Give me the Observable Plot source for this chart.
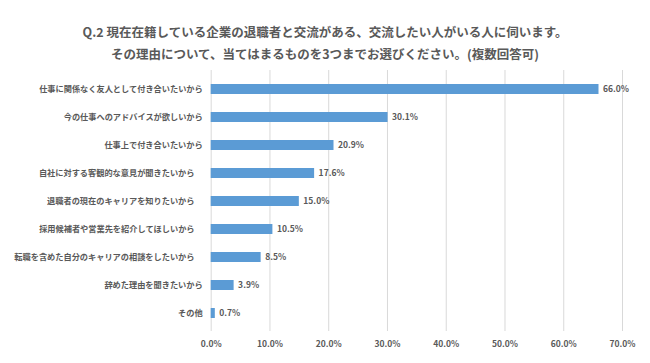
<!DOCTYPE html>
<html><head><meta charset="utf-8">
<script src="https://cdn.jsdelivr.net/npm/d3@7"></script>
<script src="https://cdn.jsdelivr.net/npm/@observablehq/plot@0.6"></script>
<style>
body{margin:0;background:#fff;font-family:"Noto Sans CJK JP","Noto Sans",sans-serif;}
#title{width:650px;height:65px;box-sizing:border-box;padding-top:21px;text-align:center;color:#595959;font-weight:bold;font-size:12.5px;line-height:22px;}
</style></head>
<body>
<div id="title"><div>Q.2 現在在籍している企業の退職者と交流がある、交流したい人がいる人に伺います。</div><div>その理由について、当てはまるものを3つまでお選びください。(複数回答可)</div></div>
<div id="chart"></div>
<script>
const categories = [
  "仕事に関係なく友人として付き合いたいから",
  "今の仕事へのアドバイスが欲しいから",
  "仕事上で付き合いたいから",
  "自社に対する客観的な意見が聞きたいから\u3000",
  "退職者の現在のキャリアを知りたいから\u3000",
  "採用候補者や営業先を紹介してほしいから\u3000",
  "転職を含めた自分のキャリアの相談をしたいから\u3000",
  "辞めた理由を聞きたいから",
  "その他"
];
const values = [66.0, 30.1, 20.9, 17.6, 15.0, 10.5, 8.5, 3.9, 0.7];
const xTicks = [0, 10, 20, 30, 40, 50, 60, 70];

const data = categories.map((c, i) => ({category: c, value: values[i]}));

const chart = Plot.plot({
  width: 650,
  height: 298,
  marginTop: 5,
  marginBottom: 32,
  marginLeft: 210.7,
  marginRight: 28,
  style: {fontFamily: '"Noto Sans CJK JP","Noto Sans",sans-serif', color: "#595959", background: "#fff"},
  x: {domain: [0, 70], ticks: xTicks, tickFormat: d => d.toFixed(1) + "%", label: null},
  y: {domain: categories, paddingInner: 0.655, paddingOuter: 0.33, label: null},
  marks: [
    Plot.gridX(xTicks, {stroke: "#d9d9d9", strokeOpacity: 1, strokeWidth: 1}),
    Plot.barX(data, {x: "value", y: "category", fill: "#5B9BD5"}),
    Plot.text(data, {x: "value", y: "category", text: d => d.value.toFixed(1) + "%", textAnchor: "start", dx: 4, fill: "#595959", fontSize: 8.5, fontWeight: "bold"}),
    Plot.axisX({ticks: xTicks, tickFormat: d => d.toFixed(1) + "%", tickSize: 0, tickPadding: 9, fontSize: 8.5, fontWeight: "bold", fill: "#595959", label: null}),
    Plot.axisY({tickSize: 0, tickPadding: 8.5, fontSize: 8.2, fontWeight: "bold", fill: "#595959", label: null})
  ]
});
document.getElementById("chart").appendChild(chart);
</script>
</body></html>
